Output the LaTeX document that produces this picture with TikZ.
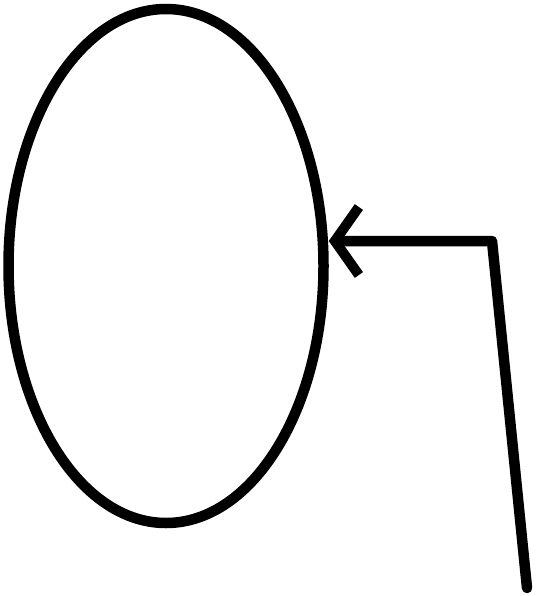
\documentclass[tikz,border=0pt]{standalone}
\usetikzlibrary{shapes.geometric,arrows.meta}
\begin{document}
\begin{tikzpicture}[x=1pt,y=-1pt,
  stroke/.style={line width=10.5pt,line cap=round,line join=round,black},
  blob/.style={stroke,ellipse,draw,minimum width=315pt,minimum height=514pt,inner sep=0pt}]
\useasboundingbox (0,0) rectangle (540,596);
\node[blob] (ell) at (166,266) {};
\coordinate (s) at (527,588);
\coordinate (c) at (492,241);
\draw[stroke,-{Straight Barb[length=24pt,width=68pt,line width=10pt]}] (s) -- (c) -- (ell.east |- c);
\end{tikzpicture}
\end{document}
